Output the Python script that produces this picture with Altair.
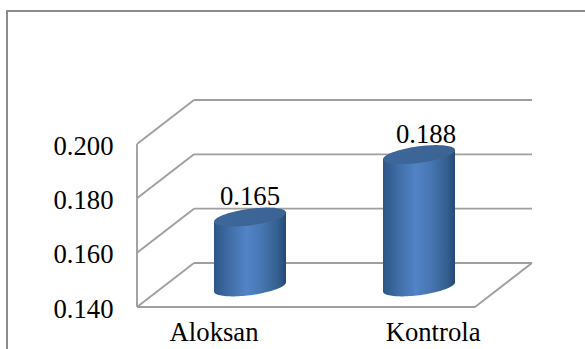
import math
import altair as alt
import pandas as pd

# Chart values
categories = ["Aloksan", "Kontrola"]
values = [0.165, 0.188]
value_labels = ["0.165", "0.188"]
tick_values = [0.140, 0.160, 0.180, 0.200]

# Box geometry, in axis units (floor width = 1, depth expressed on each axis)
DEPTH_X = 57 / 338
DEPTH_Y = 0.0162
CAT_POS = [0.25, 0.75]
LABEL_POS = [0.228, 0.876]
VALUE_LABEL_SHIFT = [0.0, 0.0207]
HALF_W = 36 / 338
CAP_B = 8.3 / 2716.5
CAP_TILT = (4.6 / 2716.5) / HALF_W
BASE_SHIFT = -0.0007

FONT = "Liberation Serif"
FONT_SIZE = 26.7
GREY = "#9f9f9f"

x_scale = alt.Scale(domain=[0, 1 + DEPTH_X], nice=False, zero=False)
y_scale = alt.Scale(domain=[tick_values[0], tick_values[-1] + DEPTH_Y], nice=False, zero=False)
y_axis = alt.Axis(
    values=tick_values,
    format=".3f",
    title=None,
    domain=False,
    ticks=False,
    grid=False,
    labelFont=FONT,
    labelFontSize=FONT_SIZE,
    labelColor="black",
    labelPadding=24,
    labelOffset=2,
    labelFlush=False,
)


def X():
    return alt.X("x:Q", scale=x_scale, axis=None)


def Y():
    return alt.Y("y:Q", scale=y_scale, axis=y_axis)


# Wall and floor outline
wall_rows = []


def seg(name, x0, y0, x1, y1):
    wall_rows.append({"seg": name, "x": x0, "y": y0, "o": 0})
    wall_rows.append({"seg": name, "x": x1, "y": y1, "o": 1})


for t in tick_values:
    seg(f"side{t}", 0, t, DEPTH_X, t + DEPTH_Y)
    seg(f"back{t}", DEPTH_X, t + DEPTH_Y, 1 + DEPTH_X, t + DEPTH_Y)
seg("wall", 0, tick_values[0], 0, tick_values[-1])
seg("front", 0, tick_values[0], 1, tick_values[0])
seg("right", 1, tick_values[0], 1 + DEPTH_X, tick_values[0] + DEPTH_Y)

walls = alt.Chart(pd.DataFrame(wall_rows)).mark_line(
    color=GREY, strokeWidth=1.9, clip=False
).encode(x=X(), y=Y(), detail="seg:N", order="o:Q")

# Cylinder outlines sampled along each bar's width
body_rows, cap_rows = [], []
N = 48
for cat, pos, val in zip(categories, CAT_POS, values):
    cx = pos + DEPTH_X / 2
    top = val + DEPTH_Y / 2
    base = tick_values[0] + DEPTH_Y / 2 + BASE_SHIFT
    for i in range(N + 1):
        u = -1 + 2 * (0.5 - 0.5 * math.cos(math.pi * i / N))
        dx = u * HALF_W
        arc = CAP_B * math.sqrt(max(0, 1 - u * u))
        tilt = CAP_TILT * dx
        body_rows.append({"cat": cat, "x": cx + dx, "y": top + tilt, "y2": base + tilt - arc})
        cap_rows.append({"cat": cat, "x": cx + dx, "y": top + tilt + arc, "y2": top + tilt - arc})

body_fill = alt.LinearGradient(
    gradient="linear", x1=0, x2=1, y1=0, y2=0,
    stops=[
        alt.GradientStop(color="#2d5587", offset=0),
        alt.GradientStop(color="#3f6ca5", offset=0.2),
        alt.GradientStop(color="#5183c6", offset=0.45),
        alt.GradientStop(color="#4877b4", offset=0.65),
        alt.GradientStop(color="#34608f", offset=0.88),
        alt.GradientStop(color="#254a76", offset=1),
    ],
)
cap_fill = alt.LinearGradient(
    gradient="linear", x1=0, x2=1, y1=0, y2=0,
    stops=[
        alt.GradientStop(color="#3d6799", offset=0),
        alt.GradientStop(color="#3b6494", offset=1),
    ],
)

bodies = alt.Chart(pd.DataFrame(body_rows)).mark_area(fill=body_fill, clip=False).encode(
    x=X(), y=Y(), y2="y2:Q", detail="cat:N"
)
caps = alt.Chart(pd.DataFrame(cap_rows)).mark_area(fill=cap_fill, clip=False).encode(
    x=X(), y=Y(), y2="y2:Q", detail="cat:N"
)

# Value labels above each cylinder
value_df = pd.DataFrame(
    {
        "x": [p + DEPTH_X / 2 + s for p, s in zip(CAT_POS, VALUE_LABEL_SHIFT)],
        "y": [v + DEPTH_Y / 2 for v in values],
        "label": value_labels,
    }
)
value_text = alt.Chart(value_df).mark_text(
    font=FONT, fontSize=FONT_SIZE, color="black", baseline="alphabetic", dy=-12, clip=False
).encode(x=X(), y=Y(), text="label:N")

# Category labels under the floor
cat_df = pd.DataFrame({"x": LABEL_POS, "y": [tick_values[0]] * 2, "label": categories})
cat_text = alt.Chart(cat_df).mark_text(
    font=FONT, fontSize=FONT_SIZE, color="black", baseline="alphabetic", dy=34, clip=False
).encode(x=X(), y=Y(), text="label:N")

# Outer frame, open on the right and bottom
frame_left = alt.Chart(pd.DataFrame({"a": [0]})).mark_rule(color="#8c8c8c", strokeWidth=2).encode(
    x=alt.value(-130), y=alt.value(-89), y2=alt.value(249)
)
frame_top = alt.Chart(pd.DataFrame({"a": [0]})).mark_rule(color="#8c8c8c", strokeWidth=2).encode(
    x=alt.value(-131), x2=alt.value(448), y=alt.value(-89)
)

chart = (
    alt.layer(frame_left, frame_top, walls, bodies, caps, value_text, cat_text)
    .properties(
        width=395,
        height=207,
        background="white",
        padding={"left": 137, "top": 100, "right": 53, "bottom": 42},
        autosize=alt.AutoSizeParams(type="none"),
    )
    .configure_view(stroke=None)
)

chart.save("out.html", embed_options={"renderer": "svg", "actions": False})
